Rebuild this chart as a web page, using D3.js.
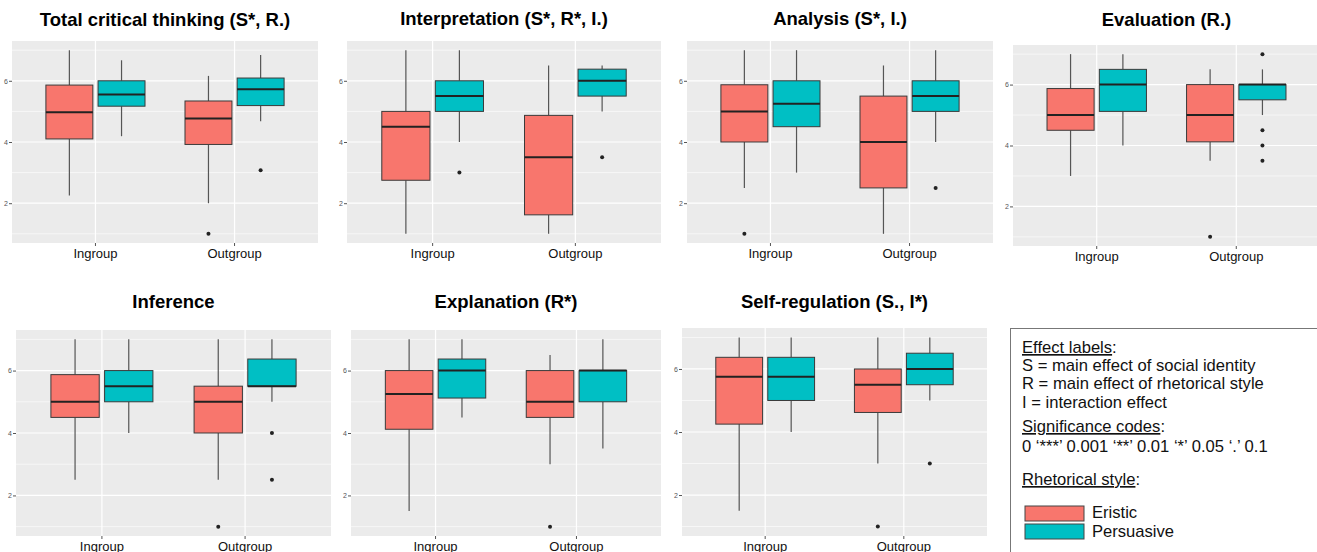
<!DOCTYPE html>
<html>
<head>
<meta charset="utf-8">
<script src="https://cdn.jsdelivr.net/npm/d3@7"></script>
<style>
  body { margin: 0; background: #fff; }
  svg { display: block; font-family: "Liberation Sans", Arial, sans-serif; }
</style>
</head>
<body>
<svg id="chart" width="1317" height="552"></svg>
<script>
// panel titles, in reading order
const titles = [
  "Total critical thinking (S*, R.)",
  "Interpretation (S*, R*, I.)",
  "Analysis (S*, I.)",
  "Evaluation (R.)",
  "Inference",
  "Explanation (R*)",
  "Self-regulation (S., I*)"
];
const groups = ["Ingroup", "Outgroup"];
const styles = ["Eristic", "Persuasive"];
const yTicks = [2, 4, 6];

// five numbers per box: [lower whisker, Q1, median, Q3, upper whisker]
// each panel: [Ingroup, Outgroup]
const eristicBoxes = [
  [[2.25, 4.1, 4.97, 5.86, 7.0], [2.0, 3.92, 4.77, 5.34, 6.16]],
  [[1.0, 2.75, 4.5, 5.0, 7.0], [1.0, 1.62, 3.5, 4.87, 6.5]],
  [[2.5, 4.0, 5.0, 5.87, 7.0], [1.0, 2.5, 4.0, 5.5, 6.5]],
  [[3.0, 4.5, 5.0, 5.87, 7.0], [3.5, 4.12, 5.0, 6.0, 6.5]],
  [[2.5, 4.5, 5.0, 5.87, 7.0], [2.5, 4.0, 5.0, 5.5, 7.0]],
  [[1.5, 4.12, 5.25, 6.0, 7.0], [3.0, 4.5, 5.0, 6.0, 6.5]],
  [[1.5, 4.25, 5.75, 6.37, 7.0], [3.0, 4.62, 5.5, 6.0, 7.0]]
];
const persuasiveBoxes = [
  [[4.19, 5.17, 5.55, 6.0, 6.67], [4.68, 5.19, 5.72, 6.09, 6.84]],
  [[4.0, 5.0, 5.5, 6.0, 7.0], [5.0, 5.5, 6.0, 6.38, 6.5]],
  [[3.0, 4.5, 5.25, 6.0, 7.0], [4.0, 5.0, 5.5, 6.0, 7.0]],
  [[4.0, 5.12, 6.0, 6.5, 7.0], [5.0, 5.5, 6.0, 6.0, 6.5]],
  [[4.0, 5.0, 5.5, 6.0, 7.0], [5.0, 5.5, 5.5, 6.37, 7.0]],
  [[4.5, 5.12, 6.0, 6.37, 7.0], [3.5, 5.0, 6.0, 6.0, 7.0]],
  [[4.0, 5.0, 5.75, 6.37, 7.0], [5.0, 5.5, 6.0, 6.5, 7.0]]
];
// outliers per panel: [Ingroup, Outgroup]
const eristicOutliers = [
  [[], [1.0]],
  [[], []],
  [[1.0], []],
  [[], [1.0]],
  [[], [1.0]],
  [[], [1.0]],
  [[], [1.0]]
];
const persuasiveOutliers = [
  [[], [3.08]],
  [[3.0], [3.5]],
  [[], [2.5]],
  [[], [7.0, 4.5, 4.0, 3.5]],
  [[], [4.0, 2.5]],
  [[], []],
  [[], [3.0]]
];

const colors = { Eristic: "#F8766D", Persuasive: "#00BFC4" };

// panel plotting areas [left, right, top, bottom] and title baseline
const panels = [
  { x0: 12, x1: 318, y0: 41, y1: 243, ty: 26 },
  { x0: 347, x1: 661, y0: 41, y1: 243, ty: 25 },
  { x0: 687, x1: 993, y0: 41, y1: 243, ty: 25 },
  { x0: 1013, x1: 1320, y0: 45, y1: 246, ty: 26 },
  { x0: 16, x1: 331, y0: 330, y1: 536, ty: 308 },
  { x0: 351, x1: 661, y0: 330, y1: 536, ty: 308 },
  { x0: 682, x1: 987, y0: 328, y1: 536, ty: 308 }
];

const svg = d3.select("#chart");

panels.forEach((p, i) => {
  const g = svg.append("g");
  const y = d3.scaleLinear().domain([0.7, 7.3]).range([p.y1, p.y0]);
  const x = d3.scaleBand().domain(groups).range([p.x0, p.x1])
    .paddingInner(0).paddingOuter(0.1);

  g.append("rect")
    .attr("x", p.x0).attr("y", p.y0)
    .attr("width", p.x1 - p.x0).attr("height", p.y1 - p.y0)
    .attr("fill", "#EBEBEB");

  // minor grid
  g.selectAll(".minor").data([1, 3, 5, 7]).enter().append("line")
    .attr("x1", p.x0).attr("x2", p.x1)
    .attr("y1", d => y(d)).attr("y2", d => y(d))
    .attr("stroke", "#fff").attr("stroke-width", 0.6);
  // major grid
  g.selectAll(".major").data(yTicks).enter().append("line")
    .attr("x1", p.x0).attr("x2", p.x1)
    .attr("y1", d => y(d)).attr("y2", d => y(d))
    .attr("stroke", "#fff").attr("stroke-width", 1.2);
  g.selectAll(".vmajor").data(groups).enter().append("line")
    .attr("x1", d => x(d) + x.bandwidth() / 2).attr("x2", d => x(d) + x.bandwidth() / 2)
    .attr("y1", p.y0).attr("y2", p.y1)
    .attr("stroke", "#fff").attr("stroke-width", 1.2);

  // axes
  const ya = g.append("g").attr("transform", `translate(${p.x0},0)`)
    .call(d3.axisLeft(y).tickValues(yTicks).tickFormat(d3.format("d")).tickSize(3).tickPadding(1));
  ya.select(".domain").remove();
  ya.selectAll("line").attr("stroke", "#555");
  ya.selectAll("text").attr("fill", "#555").style("font-size", "7px");

  const xa = g.append("g").attr("transform", `translate(0,${p.y1})`)
    .call(d3.axisBottom(x).tickSize(3).tickPadding(3));
  xa.select(".domain").remove();
  xa.selectAll("line").attr("stroke", "#555");
  xa.selectAll("text").attr("fill", "#111").style("font-size", "13px");

  // title
  g.append("text")
    .attr("x", (p.x0 + p.x1) / 2)
    .attr("y", p.ty)
    .attr("text-anchor", "middle")
    .style("font-size", "18.5px").style("font-weight", "bold")
    .text(titles[i]);

  // boxes
  groups.forEach((grp, gi) => {
    const xs = d3.scaleBand().domain(styles)
      .range([x(grp) + x.bandwidth() * 0.125, x(grp) + x.bandwidth() * 0.875])
      .paddingInner(0.1).paddingOuter(0.05);
    styles.forEach(st => {
      const b = (st === "Eristic" ? eristicBoxes : persuasiveBoxes)[i][gi];
      const outs = (st === "Eristic" ? eristicOutliers : persuasiveOutliers)[i][gi];
      const bx = xs(st), bw = xs.bandwidth(), cx = bx + bw / 2;
      const bg = g.append("g");
      bg.append("line").attr("x1", cx).attr("x2", cx)
        .attr("y1", y(b[0])).attr("y2", y(b[1]))
        .attr("stroke", "#555").attr("stroke-width", 1.2);
      bg.append("line").attr("x1", cx).attr("x2", cx)
        .attr("y1", y(b[3])).attr("y2", y(b[4]))
        .attr("stroke", "#555").attr("stroke-width", 1.2);
      bg.append("rect")
        .attr("x", bx).attr("y", y(b[3]))
        .attr("width", bw).attr("height", y(b[1]) - y(b[3]))
        .attr("fill", colors[st]).attr("stroke", "#3a3a3a").attr("stroke-width", 1);
      bg.append("line").attr("x1", bx).attr("x2", bx + bw)
        .attr("y1", y(b[2])).attr("y2", y(b[2]))
        .attr("stroke", "#222").attr("stroke-width", 2);
      bg.selectAll("circle").data(outs).enter().append("circle")
        .attr("cx", cx).attr("cy", d => y(d)).attr("r", 2)
        .attr("fill", "#222");
    });
  });
});

// legend box
const lg = svg.append("g");
lg.append("rect").attr("x", 1010.5).attr("y", 328.5)
  .attr("width", 320).attr("height", 240)
  .attr("fill", "#fff").attr("stroke", "#777").attr("stroke-width", 1);

const legendLines = [
  { y: 353, u: "Effect labels", rest: ":" },
  { y: 371, t: "S = main effect of social identity" },
  { y: 389, t: "R = main effect of rhetorical style" },
  { y: 408, t: "I = interaction effect" },
  { y: 432, u: "Significance codes", rest: ":" },
  { y: 452, t: "0 \u2018***\u2019 0.001 \u2018**\u2019 0.01 \u2018*\u2019 0.05 \u2018.\u2019 0.1" },
  { y: 485, u: "Rhetorical style", rest: ":" }
];
legendLines.forEach(l => {
  const t = lg.append("text").attr("x", 1022).attr("y", l.y)
    .style("font-size", "16.6px").attr("fill", "#111");
  if (l.u) {
    t.append("tspan").style("text-decoration", "underline").text(l.u);
    t.append("tspan").text(l.rest);
  } else {
    t.text(l.t);
  }
});
styles.forEach((st, k) => {
  lg.append("rect").attr("x", 1025).attr("y", 506 + k * 18)
    .attr("width", 59).attr("height", 15)
    .attr("fill", colors[st]).attr("stroke", "#444").attr("stroke-width", 1);
  lg.append("text").attr("x", 1092).attr("y", 518 + k * 19)
    .style("font-size", "16.6px").attr("fill", "#111").text(st);
});
</script>
</body>
</html>
